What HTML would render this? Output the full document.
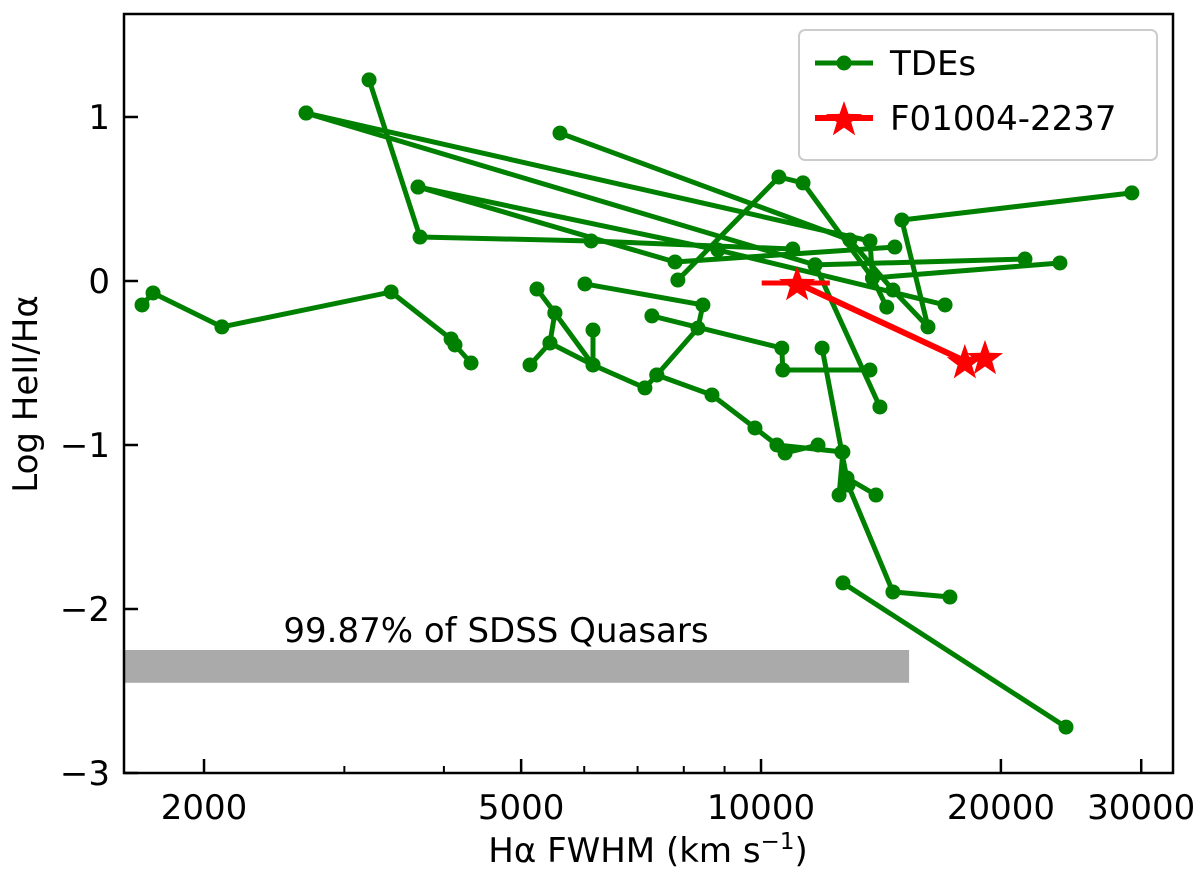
<!DOCTYPE html>
<html><head><meta charset="utf-8"><style>
body{margin:0;background:#fff;}
svg{display:block;font-family:"DejaVu Sans","Liberation Sans",sans-serif;}
</style></head><body>
<svg id="chart" width="1200" height="878" viewBox="0 0 1200 878">
<g id="marks"></g>
<g id="axes"></g>
</svg>
<script>
const tdeFwhm = [
 [1672,1726,2106,3434,4084,4130,4326],
 [3222,3733,6120,10960],
 [5594,12930,14640,16200,15020,29200],
 [2686,13700,13800,14380],
 [3712,8830,17020],
 [7864,10530,11290,13800,23720],
 [2686,11690,21440],
 [3712,7800,14720],
 [5234,5512,5434,5130],
 [5512,6154,6154],
 [5434,6154,7150,7400,8334,8454,6012],
 [7296,10620,10650,13700],
 [11690,14100],
 [7400,8678,9826,10470,12670,12530,12820,13940],
 [11930,12630,12860,14640,17260],
 [12670,24140],
 [10720,11790]
];
const tdeRatio = [
 [-0.146,-0.073,-0.28,-0.067,-0.354,-0.39,-0.5],
 [1.226,0.268,0.244,0.195],
 [0.902,0.25,-0.055,-0.28,0.372,0.537],
 [1.024,0.244,0.018,-0.159],
 [0.573,0.189,-0.146],
 [0.006,0.634,0.598,0.018,0.11],
 [1.024,0.098,0.134],
 [0.573,0.116,0.207],
 [-0.049,-0.195,-0.378,-0.512],
 [-0.195,-0.512,-0.299],
 [-0.378,-0.512,-0.652,-0.573,-0.287,-0.146,-0.018],
 [-0.213,-0.409,-0.543,-0.543],
 [0.098,-0.768],
 [-0.573,-0.695,-0.896,-1.0,-1.043,-1.305,-1.201,-1.305],
 [-0.409,-1.043,-1.244,-1.896,-1.927],
 [-1.841,-2.72],
 [-1.049,-1.0]
];
const redFwhm = [11100,18020,19100];
const redRatio = [-0.012,-0.488,-0.463];
const redErrLo = [10020];
const redErrHi = [12200];
const quasarBandFwhm = [1587,15340];
const quasarBandRatio = [-2.25,-2.45];
const xTicks = [2000,5000,10000,20000,30000];
const xTickLabels = ["2000","5000","10000","20000","30000"];
const xMinor = [3000,4000,6000,7000,8000,9000];
const yTicks = [1,0,-1,-2,-3];
const yTickLabels = ["1","0","\u22121","\u22122","\u22123"];

const L=124,R=1173,T=14,B=773;
const xMinLog=3.2006, xMaxLog=4.517, yMin=-3, yMax=1.628;
function xs(f){return L+(Math.log10(f)-xMinLog)/(xMaxLog-xMinLog)*(R-L);}
function ys(v){return B-(v-yMin)/(yMax-yMin)*(B-T);}
const NS="http://www.w3.org/2000/svg";
function mk(tag,attrs,parent){const e=document.createElementNS(NS,tag);for(const k in attrs)e.setAttribute(k,attrs[k]);parent.appendChild(e);return e;}
function starPts(cx,cy,r){let p=[];for(let i=0;i<10;i++){const a=-Math.PI/2+i*Math.PI/5;const rr=i%2?r*0.4:r;p.push((cx+rr*Math.cos(a)).toFixed(1)+","+(cy+rr*Math.sin(a)).toFixed(1));}return p.join(" ");}
const marks=document.getElementById('marks');
const axes=document.getElementById('axes');
const FS=34;

const band=mk('rect',{x:xs(quasarBandFwhm[0]),y:ys(quasarBandRatio[0]),width:xs(quasarBandFwhm[1])-xs(quasarBandFwhm[0]),height:ys(quasarBandRatio[1])-ys(quasarBandRatio[0]),fill:'#aaaaaa'},marks);


const bt=mk('text',{x:496,y:642,'font-size':FS,'text-anchor':'middle',fill:'#000'},marks);
bt.textContent='99.87% of SDSS Quasars';



tdeFwhm.forEach((fs,i)=>{
 const g=mk('g',{},marks);
 
 
 const pts=fs.map((f,j)=>xs(f).toFixed(1)+','+ys(tdeRatio[i][j]).toFixed(1)).join(' ');
 mk('polyline',{points:pts,fill:'none',stroke:'#008000','stroke-width':5,'stroke-linejoin':'round'},g);
 fs.forEach((f,j)=>{
  const c=mk('circle',{cx:xs(f),cy:ys(tdeRatio[i][j]),r:7.5,fill:'#008000'},g);
  
  
 });
});

const rg=mk('g',{},marks);


mk('line',{x1:xs(redErrLo[0]),x2:xs(redErrHi[0]),y1:ys(redRatio[0]),y2:ys(redRatio[0]),stroke:'#ff0000','stroke-width':5},rg);
mk('polyline',{points:redFwhm.map((f,j)=>xs(f).toFixed(1)+','+ys(redRatio[j]).toFixed(1)).join(' '),fill:'none',stroke:'#ff0000','stroke-width':6},rg);
redFwhm.forEach((f,j)=>{
 const s=mk('polygon',{points:starPts(xs(f),ys(redRatio[j])+2,19),fill:'#ff0000'},rg);
 
 
});

const fr=mk('rect',{x:L,y:T,width:R-L,height:B-T,fill:'none',stroke:'#000','stroke-width':2.5},axes);


xTicks.forEach((t,i)=>{
 const x=xs(t);
 mk('line',{x1:x,x2:x,y1:B,y2:B-14,stroke:'#000','stroke-width':2.5},axes);
 const tx=mk('text',{x:x,y:B+46,'font-size':FS,'text-anchor':'middle'},axes);
 tx.textContent=xTickLabels[i];
 
 
});
xMinor.forEach(t=>{const x=xs(t);mk('line',{x1:x,x2:x,y1:B,y2:B-7,stroke:'#000','stroke-width':2},axes);});
yTicks.forEach((t,i)=>{
 const y=ys(t);
 mk('line',{x1:L,x2:L+14,y1:y,y2:y,stroke:'#000','stroke-width':2.5},axes);
 const tx=mk('text',{x:L-14,y:y+12,'font-size':FS,'text-anchor':'end'},axes);
 tx.textContent=yTickLabels[i];
 
 
});
const xl=mk('text',{x:648,y:862,'font-size':FS,'text-anchor':'middle'},axes);
xl.innerHTML='H\u03b1 FWHM (km s<tspan dy="-13" font-size="23">\u22121</tspan><tspan dy="13">)</tspan>';


const yl=mk('text',{x:0,y:0,'font-size':FS,'text-anchor':'middle',transform:'translate(37,394) rotate(-90)'},axes);
yl.textContent='Log HeII/H\u03b1';



const lg=mk('g',{},axes);


mk('rect',{x:799,y:30,width:358,height:130,rx:6,fill:'#fff',stroke:'#ccc','stroke-width':2},lg);
const e1=mk('g',{},lg);


mk('line',{x1:815,x2:873,y1:63,y2:63,stroke:'#008000','stroke-width':5},e1);
mk('circle',{cx:844,cy:63,r:7.5,fill:'#008000'},e1);
const t1=mk('text',{x:890,y:75,'font-size':FS},e1);t1.textContent='TDEs';
const e2=mk('g',{},lg);


mk('line',{x1:815,x2:873,y1:118,y2:118,stroke:'#ff0000','stroke-width':6},e2);
mk('polygon',{points:starPts(844,120,19),fill:'#ff0000'},e2);
const t2=mk('text',{x:890,y:130,'font-size':FS},e2);t2.textContent='F01004-2237';
</script>
</body></html>
